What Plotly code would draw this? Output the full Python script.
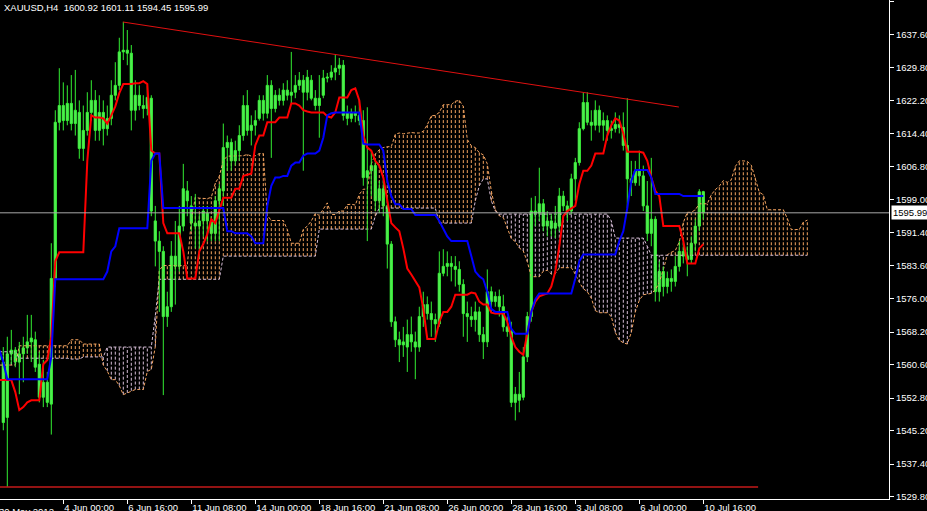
import plotly.graph_objects as go

# ---------------- data ----------------
symbol = "XAUUSD"
timeframe = "H4"

date_idx = [0, 16, 32, 48, 64, 80, 96, 112, 128, 144, 160, 176]
date_text = ["30 May 2012", "4 Jun 00:00", "6 Jun 16:00", "11 Jun 08:00", "14 Jun 00:00",
             "18 Jun 16:00", "21 Jun 08:00", "26 Jun 00:00", "28 Jun 16:00", "3 Jul 08:00",
             "6 Jul 00:00", "10 Jul 16:00"]

price_ticks = [1645.20, 1637.60, 1629.80, 1622.20, 1614.40, 1606.80, 1599.00, 1591.40,
               1583.60, 1576.00, 1568.20, 1560.60, 1552.80, 1545.20, 1537.40, 1529.80]

open_ = [1563.6, 1561.2, 1548.3, 1563.1, 1564.0, 1561.2, 1563.1, 1564.5, 1565.9, 1566.4,
         1560.7, 1553.0, 1556.5, 1551.4, 1580.7, 1617.1, 1621.0, 1617.5, 1621.5, 1616.8,
         1619.4, 1611.0, 1615.2, 1619.4, 1622.2, 1615.2, 1619.4, 1615.6, 1618.0, 1623.4,
         1625.7, 1633.5, 1633.9, 1633.2, 1619.9, 1623.4, 1621.0, 1620.3, 1622.7, 1594.1,
         1589.4, 1587.0, 1571.8, 1574.1, 1585.9, 1583.5, 1592.9, 1601.1, 1597.6, 1593.6,
         1592.9, 1594.1, 1595.9, 1594.1, 1591.2, 1598.8, 1601.1, 1611.2, 1612.4, 1608.1,
         1610.5, 1614.0, 1621.0, 1615.2, 1616.4, 1618.0, 1622.2, 1619.2, 1625.7, 1620.3,
         1623.4, 1622.2, 1624.6, 1623.4, 1624.1, 1625.7, 1626.9, 1624.1, 1626.9, 1622.7,
         1621.0, 1623.4, 1627.4, 1627.6, 1628.8, 1629.7, 1630.4, 1619.4, 1618.0, 1619.4,
         1618.7, 1617.5, 1604.2, 1605.8, 1607.0, 1598.8, 1601.6, 1597.6, 1588.7, 1570.6,
         1566.4, 1565.2, 1564.7, 1567.6, 1565.9, 1564.7, 1571.8, 1574.6, 1572.5, 1571.1,
         1570.1, 1581.9, 1583.5, 1584.2, 1583.5, 1582.8, 1579.3, 1572.5, 1571.8, 1571.1,
         1572.9, 1567.6, 1565.9, 1577.6, 1575.3, 1576.5, 1574.1, 1569.4, 1568.3, 1551.8,
         1553.7, 1553.0, 1562.4, 1571.8, 1596.4, 1595.9, 1598.1, 1592.9, 1594.1, 1592.4,
         1592.9, 1599.9, 1597.6, 1596.4, 1603.9, 1607.7, 1615.6, 1621.7, 1617.1, 1616.4,
         1619.9, 1616.4, 1617.5, 1615.2, 1615.6, 1616.6, 1615.9, 1611.7, 1603.9, 1603.0,
         1605.8, 1604.6, 1597.6, 1591.2, 1594.5, 1577.6, 1582.3, 1578.8, 1580.7, 1580.0,
         1583.5, 1587.0, 1585.9, 1585.1, 1588.9, 1592.9, 1600.92]

high = [1564.7, 1564.7, 1567.1, 1568.7, 1564.7, 1565.9, 1567.1, 1572.2, 1572.2, 1568.3,
        1563.6, 1561.7, 1558.9, 1588.9, 1619.9, 1629.7, 1626.4, 1625.7, 1628.1, 1629.3,
        1622.2, 1621.0, 1624.1, 1626.9, 1624.6, 1623.4, 1622.2, 1621.0, 1626.9, 1631.1,
        1636.8, 1640.5, 1638.6, 1635.1, 1626.9, 1625.7, 1623.4, 1625.7, 1623.4, 1597.6,
        1591.7, 1588.2, 1577.6, 1589.4, 1594.1, 1597.6, 1607.4, 1603.4, 1599.9, 1600.4,
        1595.7, 1597.6, 1597.6, 1595.2, 1599.9, 1602.7, 1616.8, 1614.0, 1613.3, 1612.8,
        1616.4, 1623.4, 1624.6, 1618.7, 1619.9, 1623.4, 1623.4, 1628.1, 1626.9, 1624.6,
        1625.0, 1626.2, 1626.9, 1633.5, 1628.1, 1628.8, 1628.1, 1629.3, 1628.1, 1624.6,
        1628.1, 1629.3, 1628.6, 1630.4, 1632.8, 1632.1, 1631.6, 1621.0, 1620.3, 1621.0,
        1622.2, 1619.9, 1620.6, 1610.5, 1608.1, 1603.4, 1603.4, 1599.9, 1589.4, 1571.8,
        1568.3, 1569.4, 1571.1, 1571.8, 1568.3, 1574.1, 1577.6, 1576.5, 1575.3, 1572.5,
        1587.0, 1587.5, 1587.0, 1585.9, 1585.9, 1584.7, 1580.5, 1575.3, 1574.1, 1575.3,
        1574.1, 1569.4, 1582.8, 1578.8, 1577.6, 1578.1, 1576.9, 1571.8, 1570.6, 1555.4,
        1558.9, 1564.7, 1572.9, 1599.5, 1599.9, 1606.5, 1599.2, 1596.4, 1595.7, 1597.6,
        1601.8, 1601.1, 1598.8, 1605.1, 1608.8, 1617.1, 1624.1, 1624.1, 1619.9, 1622.2,
        1621.0, 1619.4, 1618.7, 1617.5, 1619.4, 1618.7, 1619.4, 1622.7, 1608.1, 1608.1,
        1610.5, 1607.0, 1603.4, 1608.8, 1595.2, 1584.7, 1583.5, 1582.3, 1582.8, 1585.9,
        1589.4, 1588.9, 1588.2, 1590.5, 1594.5, 1601.5, 1601.11]

low = [1560.0, 1545.3, 1532.1, 1560.7, 1560.0, 1553.7, 1556.5, 1563.1, 1561.2, 1558.9,
       1551.8, 1550.7, 1550.7, 1544.3, 1578.8, 1615.2, 1615.2, 1616.4, 1615.2, 1614.0,
       1608.6, 1608.1, 1614.0, 1617.5, 1612.8, 1612.8, 1611.7, 1614.0, 1616.4, 1622.2,
       1624.6, 1631.6, 1630.4, 1615.2, 1617.5, 1619.9, 1618.0, 1618.7, 1595.2, 1583.5,
       1572.9, 1553.5, 1569.4, 1572.9, 1574.6, 1582.3, 1591.7, 1595.2, 1591.7, 1587.7,
       1585.4, 1590.5, 1589.4, 1589.4, 1589.4, 1589.4, 1597.6, 1605.8, 1605.8, 1607.0,
       1608.1, 1612.8, 1614.0, 1611.7, 1614.0, 1617.5, 1617.5, 1618.0, 1608.8, 1619.4,
       1621.0, 1621.0, 1622.2, 1621.5, 1622.7, 1624.6, 1605.8, 1622.2, 1622.2, 1619.9,
       1613.5, 1622.7, 1626.4, 1626.9, 1626.9, 1628.1, 1617.5, 1616.4, 1617.1, 1617.1,
       1616.4, 1602.3, 1589.4, 1599.9, 1596.4, 1595.9, 1595.2, 1583.0, 1569.4, 1564.7,
       1561.2, 1562.4, 1558.9, 1563.6, 1557.2, 1563.6, 1569.4, 1571.1, 1567.1, 1565.9,
       1569.4, 1581.2, 1581.2, 1580.0, 1578.8, 1577.6, 1567.1, 1565.9, 1569.4, 1568.3,
       1565.9, 1561.9, 1564.7, 1572.9, 1574.1, 1571.8, 1568.3, 1567.1, 1550.7, 1547.6,
       1549.5, 1552.3, 1561.2, 1570.6, 1592.9, 1594.1, 1591.7, 1590.5, 1590.5, 1590.1,
       1591.7, 1596.4, 1594.1, 1595.7, 1598.8, 1607.0, 1615.2, 1616.4, 1612.8, 1615.2,
       1614.7, 1612.8, 1612.8, 1613.3, 1614.7, 1614.5, 1610.5, 1597.1, 1599.9, 1602.3,
       1602.3, 1596.4, 1589.4, 1588.2, 1575.3, 1575.3, 1576.5, 1577.2, 1577.6, 1578.8,
       1582.3, 1584.2, 1581.2, 1584.2, 1587.0, 1591.7, 1594.45]

close = [1561.7, 1547.1, 1563.1, 1564.0, 1561.2, 1563.1, 1564.5, 1565.9, 1566.8, 1560.0,
         1553.0, 1556.5, 1551.8, 1580.7, 1617.1, 1621.0, 1617.5, 1621.5, 1616.8, 1619.9,
         1611.0, 1615.2, 1619.4, 1622.2, 1615.2, 1619.4, 1615.6, 1618.0, 1623.4, 1625.7,
         1633.5, 1633.9, 1633.2, 1619.9, 1623.4, 1621.0, 1620.3, 1622.9, 1596.4, 1589.4,
         1587.0, 1571.8, 1574.1, 1585.9, 1583.5, 1592.9, 1601.6, 1598.8, 1593.6, 1592.9,
         1594.1, 1596.4, 1594.1, 1591.2, 1598.8, 1601.6, 1611.2, 1612.4, 1608.1, 1610.5,
         1614.0, 1621.0, 1615.2, 1616.4, 1617.5, 1622.2, 1619.2, 1625.7, 1620.3, 1623.4,
         1622.2, 1624.6, 1623.4, 1624.1, 1625.7, 1626.9, 1624.1, 1627.6, 1622.7, 1621.0,
         1622.7, 1627.4, 1627.6, 1628.8, 1629.7, 1630.4, 1618.7, 1618.0, 1619.4, 1618.7,
         1617.5, 1604.2, 1605.8, 1607.0, 1598.8, 1601.6, 1597.6, 1588.7, 1570.6, 1566.4,
         1565.2, 1565.9, 1567.6, 1565.9, 1564.7, 1571.8, 1574.6, 1572.5, 1571.1, 1570.1,
         1581.9, 1583.5, 1584.2, 1583.5, 1582.8, 1579.3, 1572.5, 1571.8, 1571.1, 1572.9,
         1567.6, 1565.9, 1577.6, 1575.3, 1576.5, 1574.1, 1569.4, 1568.3, 1551.8, 1553.7,
         1552.3, 1562.4, 1571.8, 1596.4, 1595.9, 1598.1, 1592.9, 1594.1, 1592.4, 1593.6,
         1599.9, 1597.6, 1596.4, 1603.9, 1607.7, 1615.6, 1621.7, 1617.1, 1616.4, 1619.9,
         1616.4, 1617.5, 1615.2, 1615.6, 1616.6, 1615.9, 1611.7, 1603.9, 1603.0, 1605.8,
         1604.6, 1597.6, 1591.2, 1594.5, 1577.6, 1582.3, 1578.8, 1580.7, 1580.0, 1583.5,
         1587.0, 1585.9, 1585.1, 1588.9, 1592.9, 1600.9, 1595.99]

tenkan = [1557.0, 1557.0, 1557.0, 1557.0, 1554.2, 1550.0, 1550.7, 1551.8, 1552.3, 1552.3,
          1552.3, 1560.7, 1561.7, 1567.1, 1584.7, 1586.8, 1586.8, 1586.8, 1586.8, 1586.8,
          1586.8, 1586.8, 1608.1, 1618.7, 1618.2, 1618.2, 1618.0, 1616.8, 1618.7, 1620.8,
          1623.9, 1626.0, 1626.0, 1626.0, 1626.2, 1626.2, 1626.7, 1626.0, 1610.5, 1609.8,
          1609.8, 1593.6, 1591.2, 1591.2, 1591.2, 1591.2, 1587.0, 1580.7, 1580.7, 1580.7,
          1587.0, 1588.7, 1591.0, 1594.5, 1593.6, 1596.4, 1599.5, 1599.5, 1599.5, 1601.6,
          1601.6, 1604.6, 1604.8, 1605.1, 1611.7, 1614.0, 1614.0, 1617.1, 1617.1, 1617.1,
          1618.2, 1618.2, 1618.2, 1621.5, 1621.5, 1621.0, 1619.9, 1619.6, 1619.4, 1619.4,
          1619.4, 1619.4, 1618.5, 1618.2, 1619.4, 1622.9, 1622.9, 1622.9, 1624.6, 1625.0,
          1622.2, 1614.0, 1611.2, 1610.5, 1608.1, 1607.0, 1604.2, 1598.8, 1593.6, 1592.6,
          1591.7, 1587.7, 1583.0, 1581.6, 1580.0, 1578.6, 1573.6, 1566.6, 1566.6, 1566.6,
          1570.6, 1572.9, 1572.9, 1574.1, 1576.9, 1576.9, 1576.9, 1576.9, 1577.4, 1577.2,
          1575.3, 1574.6, 1574.6, 1572.7, 1572.5, 1572.5, 1572.5, 1570.6, 1567.1, 1564.7,
          1563.6, 1562.9, 1568.3, 1572.9, 1575.3, 1576.5, 1576.9, 1577.2, 1578.8, 1582.3,
          1588.2, 1595.2, 1596.4, 1597.1, 1597.6, 1602.7, 1605.8, 1605.8, 1607.0, 1609.8,
          1609.8, 1609.8, 1614.0, 1616.4, 1618.0, 1617.5, 1614.5, 1610.2, 1610.2, 1610.2,
          1610.2, 1610.0, 1608.1, 1604.2, 1601.1, 1599.9, 1592.9, 1592.9, 1592.9, 1592.9,
          1592.9, 1589.4, 1584.2, 1584.2, 1584.2, 1587.7, 1588.7]

kijun = [1564.0, 1561.2, 1557.2, 1557.2, 1557.2, 1557.2, 1557.2, 1557.2, 1557.2, 1557.2,
         1557.2, 1557.2, 1557.2, 1562.4, 1580.5, 1580.5, 1580.5, 1580.5, 1580.5, 1580.5,
         1580.5, 1580.5, 1580.5, 1580.5, 1580.5, 1580.5, 1580.5, 1582.3, 1587.0, 1588.2,
         1592.4, 1592.4, 1592.4, 1592.4, 1592.4, 1592.4, 1592.4, 1592.4, 1608.1, 1609.8,
         1609.8, 1597.1, 1597.1, 1597.1, 1597.1, 1597.1, 1597.1, 1597.1, 1597.1, 1597.1,
         1597.1, 1597.1, 1597.1, 1597.1, 1597.1, 1597.1, 1597.1, 1591.7, 1591.7, 1591.2,
         1591.2, 1591.2, 1591.2, 1590.5, 1588.9, 1588.9, 1588.9, 1597.6, 1602.3, 1604.2,
         1604.2, 1604.6, 1604.6, 1607.0, 1607.7, 1607.7, 1609.3, 1609.8, 1609.8, 1609.8,
         1610.5, 1613.5, 1618.7, 1619.2, 1619.4, 1619.4, 1619.4, 1619.4, 1619.4, 1619.4,
         1619.4, 1612.1, 1611.9, 1611.9, 1611.9, 1611.9, 1610.5, 1603.4, 1599.9, 1598.0,
         1598.0, 1596.9, 1596.9, 1596.9, 1595.5, 1595.5, 1595.5, 1595.5, 1595.5, 1595.5,
         1594.1, 1592.2, 1590.5, 1589.4, 1589.4, 1589.4, 1589.4, 1589.4, 1585.9, 1582.3,
         1581.2, 1580.5, 1577.6, 1573.6, 1572.9, 1572.9, 1572.9, 1572.9, 1569.0, 1567.8,
         1567.8, 1567.8, 1567.8, 1572.9, 1575.8, 1577.2, 1577.2, 1577.2, 1577.2, 1577.2,
         1577.2, 1577.2, 1577.2, 1577.2, 1580.7, 1584.7, 1586.3, 1586.3, 1586.3, 1586.3,
         1586.3, 1586.3, 1586.3, 1586.3, 1586.3, 1589.4, 1591.7, 1597.1, 1603.4, 1606.0,
         1606.0, 1606.0, 1606.0, 1604.2, 1600.4, 1600.4, 1600.4, 1600.4, 1600.4, 1600.4,
         1600.4, 1599.9, 1599.9, 1599.9, 1599.9, 1599.9, 1599.9]

span_a = [1560.5, 1560.5, 1560.5, 1560.5, 1560.5, 1565.0, 1565.0, 1565.0, 1565.0, 1565.0,
          1565.0, 1565.0, 1565.0, 1565.0, 1565.0, 1565.0, 1565.0, 1565.0, 1566.4, 1566.4,
          1566.4, 1565.4, 1565.4, 1565.4, 1565.4, 1565.4, 1560.5, 1559.1, 1557.1, 1557.1,
          1555.7, 1553.6, 1554.0, 1554.5, 1554.8, 1554.8, 1554.8, 1559.0, 1559.5, 1564.8,
          1582.6, 1583.7, 1583.7, 1583.7, 1583.7, 1583.7, 1583.7, 1583.7, 1594.3, 1599.6,
          1599.4, 1599.4, 1599.3, 1599.6, 1602.9, 1604.5, 1608.2, 1609.2, 1609.2, 1609.2,
          1609.3, 1609.3, 1609.6, 1609.2, 1609.3, 1609.8, 1609.8, 1595.4, 1594.2, 1594.2,
          1594.2, 1594.2, 1592.1, 1588.9, 1588.9, 1588.9, 1592.1, 1592.9, 1594.1, 1595.8,
          1595.4, 1596.8, 1598.3, 1595.6, 1595.6, 1596.4, 1596.4, 1597.9, 1598.0, 1597.8,
          1600.3, 1601.5, 1601.5, 1607.4, 1609.7, 1610.7, 1611.2, 1611.4, 1611.4, 1614.3,
          1614.6, 1614.4, 1614.6, 1614.7, 1614.6, 1614.6, 1615.0, 1616.5, 1618.6, 1618.7,
          1619.4, 1621.2, 1621.2, 1621.2, 1622.0, 1622.2, 1620.8, 1613.1, 1611.6, 1611.2,
          1610.0, 1609.5, 1607.4, 1601.1, 1596.8, 1595.3, 1594.9, 1592.3, 1590.0, 1589.3,
          1587.8, 1587.1, 1584.6, 1581.1, 1581.1, 1581.1, 1582.4, 1582.6, 1581.7, 1581.8,
          1583.2, 1583.2, 1583.2, 1583.2, 1581.7, 1579.8, 1578.3, 1577.6, 1576.1, 1573.2,
          1572.7, 1572.7, 1572.7, 1571.8, 1568.1, 1566.3, 1565.7, 1565.4, 1568.1, 1572.9,
          1575.6, 1576.9, 1577.1, 1577.2, 1578.0, 1579.8, 1582.7, 1586.2, 1586.8, 1587.2,
          1589.2, 1593.7, 1596.1, 1596.1, 1596.7, 1598.1, 1598.1, 1598.1, 1600.2, 1601.4,
          1602.2, 1603.5, 1603.1, 1603.7, 1606.8, 1608.1, 1608.1, 1608.0, 1607.1, 1604.2,
          1600.8, 1600.2, 1596.7, 1596.7, 1596.7, 1596.7, 1596.7, 1594.7, 1592.1, 1592.1,
          1592.1, 1593.8, 1594.3]

span_b = [1563.6, 1563.6, 1563.6, 1563.6, 1563.6, 1562.1, 1562.1, 1562.1, 1562.1, 1562.1,
          1562.1, 1562.1, 1562.1, 1562.1, 1562.1, 1562.1, 1562.1, 1562.1, 1561.9, 1561.9,
          1561.9, 1562.4, 1562.4, 1562.4, 1562.4, 1562.4, 1562.4, 1564.7, 1564.7, 1564.7,
          1564.7, 1564.7, 1564.7, 1564.7, 1564.7, 1564.7, 1564.7, 1564.7, 1564.7, 1572.0,
          1580.5, 1580.5, 1580.5, 1580.5, 1580.5, 1580.5, 1580.5, 1580.5, 1580.5, 1580.5,
          1580.5, 1580.5, 1580.5, 1580.5, 1580.5, 1580.5, 1585.9, 1585.9, 1585.9, 1585.9,
          1585.9, 1585.9, 1585.9, 1585.9, 1585.9, 1585.9, 1585.9, 1585.9, 1585.9, 1585.9,
          1585.9, 1585.9, 1585.9, 1585.9, 1585.9, 1585.9, 1585.9, 1585.9, 1585.9, 1585.9,
          1592.2, 1592.2, 1592.2, 1592.2, 1592.2, 1592.2, 1592.2, 1592.2, 1592.2, 1592.2,
          1592.2, 1592.2, 1592.2, 1592.2, 1595.2, 1597.1, 1597.1, 1597.1, 1597.1, 1597.1,
          1597.1, 1597.1, 1597.1, 1597.1, 1597.1, 1597.1, 1597.1, 1597.1, 1597.1, 1597.1,
          1593.6, 1593.6, 1593.6, 1593.6, 1593.6, 1593.6, 1593.6, 1593.6, 1593.6, 1598.8,
          1602.3, 1603.9, 1603.9, 1598.8, 1596.4, 1595.7, 1595.7, 1595.7, 1595.7, 1595.7,
          1595.7, 1595.7, 1595.7, 1595.7, 1595.7, 1595.7, 1595.7, 1595.7, 1595.7, 1595.7,
          1595.7, 1595.7, 1595.7, 1595.7, 1595.7, 1595.7, 1595.7, 1595.7, 1595.7, 1595.7,
          1595.7, 1595.7, 1595.7, 1594.1, 1590.1, 1590.1, 1590.1, 1590.1, 1590.1, 1590.1,
          1590.1, 1590.1, 1588.2, 1586.1, 1586.1, 1586.1, 1586.1, 1586.1, 1586.1, 1586.1,
          1586.1, 1586.1, 1586.1, 1586.1, 1586.1, 1586.1, 1586.1, 1586.1, 1586.1, 1586.1,
          1586.1, 1586.1, 1586.1, 1586.1, 1586.1, 1586.1, 1586.1, 1586.1, 1586.1, 1586.1,
          1586.1, 1586.1, 1586.1, 1586.1, 1586.1, 1586.1, 1586.1, 1586.1, 1586.1, 1586.1,
          1586.1, 1586.1, 1586.1]

trend_x = [30.9, 169.9]
trend_y = [1640.47, 1620.65]
support_x = [-5.0, 189.7]
support_y = [1532.08, 1532.08]
bid = 1595.99

# ---------------- build ----------------
n = len(close)
assert len(open_) == n and len(high) == n and len(low) == n, (len(open_), len(high), len(low), n)
assert len(tenkan) == n and len(kijun) == n, (len(tenkan), len(kijun))
assert len(span_a) == n + 26 and len(span_b) == n + 26, (len(span_a), len(span_b))

idx = list(range(n))
cidx = list(range(len(span_a)))

FONT = "Liberation Sans"
FS = 9.5
GREEN = "#33ee33"
BODY = "#b8ffb8"
SANDY = "#F4A460"
THISTLE = "#D8BFD8"

fig = go.Figure()

# cloud columns (dotted histogram between the spans)
cols = {True: ([], []), False: ([], [])}
for j in cidx:
    a, b = span_a[j], span_b[j]
    key = a >= b
    cols[key][0].extend([j, j, None])
    cols[key][1].extend([min(a, b), max(a, b), None])
for key, colr in ((True, SANDY), (False, THISTLE)):
    fig.add_trace(go.Scatter(x=cols[key][0], y=cols[key][1], mode="lines",
                             line=dict(color=colr, width=1, dash="3px,2px"),
                             hoverinfo="skip"))

fig.add_trace(go.Scatter(x=cidx, y=span_a, mode="lines",
                         line=dict(color=SANDY, width=1, dash="3px,2px"), hoverinfo="skip"))
fig.add_trace(go.Scatter(x=cidx, y=span_b, mode="lines",
                         line=dict(color=THISTLE, width=1, dash="3px,2px"), hoverinfo="skip"))

# candles: wicks
wx, wy = [], []
for i in idx:
    wx.extend([i, i, None])
    wy.extend([low[i], high[i], None])
fig.add_trace(go.Scatter(x=wx, y=wy, mode="lines", line=dict(color=GREEN, width=1),
                         hoverinfo="skip"))
# candles: bodies
base = [min(open_[i], close[i]) for i in idx]
hgt = [max(abs(close[i] - open_[i]), 0.25) for i in idx]
fig.add_trace(go.Bar(x=idx, y=hgt, base=base, width=0.55,
                     marker=dict(color=BODY, line=dict(color=GREEN, width=1)),
                     hoverinfo="skip"))

# tenkan / kijun
fig.add_trace(go.Scatter(x=idx, y=tenkan, mode="lines", line=dict(color="#ff0000", width=2),
                         hoverinfo="skip"))
fig.add_trace(go.Scatter(x=idx, y=kijun, mode="lines", line=dict(color="#0000ff", width=2),
                         hoverinfo="skip"))

# trend lines
fig.add_trace(go.Scatter(x=trend_x, y=trend_y, mode="lines", line=dict(color="#e01010", width=1),
                         hoverinfo="skip"))
fig.add_trace(go.Scatter(x=support_x, y=support_y, mode="lines",
                         line=dict(color="#c41a1a", width=1.5), hoverinfo="skip"))

# bid line
fig.add_hline(y=bid, line_color="#a8a8a8", line_width=1)

PLOT_W = 889
x0 = 0.175
x1 = x0 + PLOT_W / 4.0

fig.update_layout(
    width=927, height=511, autosize=False,
    margin=dict(l=0, r=927 - PLOT_W, t=0, b=12, pad=0, autoexpand=False),
    paper_bgcolor="#000000", plot_bgcolor="#000000",
    showlegend=False, hovermode=False, barmode="overlay",
    font=dict(family=FONT, size=FS, color="#ffffff"),
    xaxis=dict(range=[x0, x1], showgrid=False, zeroline=False, showline=True,
               linecolor="#ffffff", linewidth=1, ticks="outside", ticklen=4,
               tickcolor="#ffffff", tickvals=date_idx, ticktext=date_text,
               ticklabelposition="outside right", tickangle=0, automargin=False,
               tickfont=dict(family=FONT, size=FS, color="#ffffff"), fixedrange=True),
    yaxis=dict(range=[1529.28, 1645.60], side="right", showgrid=False, zeroline=False,
               showline=True, linecolor="#ffffff", linewidth=1, ticks="outside", ticklen=4,
               tickcolor="#ffffff", tickvals=price_ticks, automargin=False,
               ticktext=["%.2f" % v for v in price_ticks],
               tickfont=dict(family=FONT, size=FS, color="#ffffff"), fixedrange=True),
)

# title line (symbol, timeframe, last bar OHLC)
title = "%s,%s\u00a0 %.2f %.2f %.2f %.2f" % (symbol, timeframe, open_[-1], high[-1], low[-1], close[-1])
fig.add_annotation(text=title, xref="paper", yref="paper", x=0, y=1, xanchor="left",
                   yanchor="top", showarrow=False, xshift=2, yshift=0,
                   font=dict(family=FONT, size=FS, color="#ffffff"))

# first date label (its tick lies just left of the visible area)
fig.add_annotation(text=date_text[0], xref="paper", yref="paper", x=0, y=0,
                   xanchor="left", yanchor="top", showarrow=False, xshift=-3, yshift=-5,
                   font=dict(family=FONT, size=FS, color="#ffffff"))

# bid price label on the axis
fig.add_annotation(text="%.2f" % bid, xref="paper", yref="y", x=1, y=bid, xanchor="left",
                   yanchor="middle", showarrow=False, xshift=2, bgcolor="#ffffff",
                   borderpad=1, font=dict(family=FONT, size=FS, color="#000000"))

fig.write_html("out.html",
               config={"displayModeBar": False, "staticPlot": True},
               post_script="document.body.style.margin='0px';"
                           "document.body.style.background='#000000';"
                           "document.body.style.overflow='hidden';")
